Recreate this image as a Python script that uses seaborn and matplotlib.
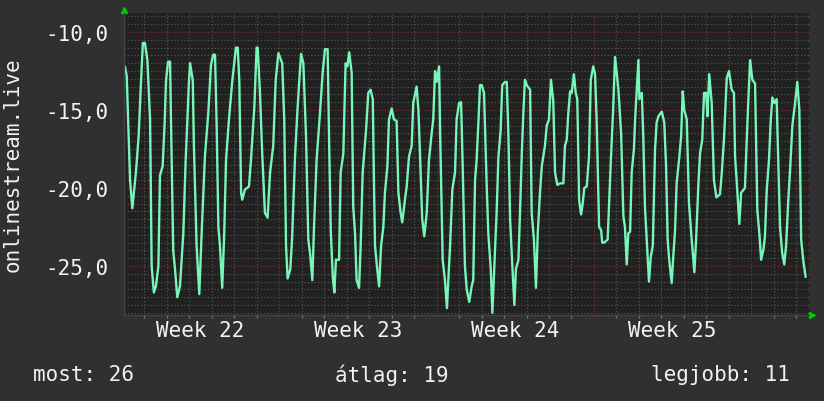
import pandas as pd
import seaborn as sns
import matplotlib.pyplot as plt
from matplotlib.ticker import FuncFormatter, MultipleLocator, FixedLocator

# time in days since start of week 22
days = [0.13, 0.21, 0.27, 0.36, 0.46, 0.53, 0.62, 0.74, 0.85, 0.93, 1.02, 1.13, 1.25, 1.32, 1.42,
        1.51, 1.62, 1.69, 1.81, 1.90, 1.96, 2.05, 2.14, 2.18, 2.28, 2.36, 2.46, 2.58, 2.73, 2.83,
        2.92, 2.98, 3.03, 3.15, 3.20, 3.32, 3.44, 3.55, 3.69, 3.84, 3.96, 4.06, 4.14, 4.21, 4.29,
        4.36, 4.46, 4.55, 4.63, 4.76, 4.91, 5.07, 5.15, 5.22, 5.30, 5.35, 5.47, 5.65, 5.74, 5.89,
        5.99, 6.04, 6.14, 6.24, 6.36, 6.48, 6.59, 6.73, 6.84, 6.96, 7.13, 7.22, 7.30, 7.37, 7.49,
        7.57, 7.70, 7.80, 7.89, 7.97, 8.07, 8.19, 8.29, 8.37, 8.47, 8.54, 8.66, 8.81, 8.93, 9.03,
        9.15, 9.22, 9.29, 9.38, 9.45, 9.52, 9.66, 9.73, 9.85, 9.95, 10.03, 10.11, 10.22, 10.29, 10.37,
        10.44, 10.55, 10.62, 10.71, 10.86, 10.96, 11.06, 11.16, 11.21, 11.26, 11.33, 11.44, 11.53, 11.63, 11.70,
        11.81, 11.88, 12.00, 12.10, 12.22, 12.30, 12.40, 12.47, 12.59, 12.67, 12.77, 12.89, 12.96, 13.04, 13.11,
        13.19, 13.26, 13.36, 13.45, 13.56, 13.66, 13.78, 13.85, 13.93, 14.00, 14.11, 14.16, 14.27, 14.37, 14.46,
        14.52, 14.60, 14.70, 14.82, 14.89, 15.00, 15.09, 15.16, 15.26, 15.34, 15.45, 15.56, 15.63, 15.71, 15.78,
        15.86, 15.93, 16.01, 16.11, 16.23, 16.30, 16.41, 16.48, 16.57, 16.67, 16.75, 16.85, 16.92, 17.04, 17.12,
        17.19, 17.27, 17.37, 17.46, 17.53, 17.64, 17.71, 17.79, 17.86, 17.93, 18.01, 18.16, 18.23, 18.33, 18.42,
        18.50, 18.60, 18.68, 18.82, 18.90, 19.00, 19.09, 19.19, 19.27, 19.37, 19.49, 19.64, 19.71, 19.79, 19.86,
        19.94, 20.01, 20.11, 20.19, 20.26, 20.34, 20.43, 20.50, 20.57, 20.68, 20.78, 20.86, 20.97, 21.05, 21.12,
        21.23, 21.32, 21.37, 21.46, 21.61, 21.68, 21.76, 21.86, 21.94, 22.01, 22.09, 22.21, 22.31, 22.38, 22.46,
        22.53, 22.61, 22.68, 22.78, 22.84, 22.98, 23.02, 23.13, 23.20, 23.27, 23.35, 23.45, 23.53, 23.62, 23.72,
        23.79, 23.87, 24.02, 24.13, 24.21, 24.28, 24.35, 24.46, 24.53, 24.61, 24.68, 24.80, 24.88, 24.95, 25.02,
        25.13, 25.23, 25.35, 25.47, 25.54, 25.65, 25.72, 25.82, 25.90, 25.99, 26.05, 26.13, 26.24, 26.34, 26.45,
        26.61, 26.69, 26.79, 26.91, 27.01, 27.13, 27.23, 27.28, 27.35, 27.47, 27.55, 27.72, 27.80, 27.87, 27.95,
        28.05, 28.17, 28.27, 28.36, 28.44, 28.54, 28.61, 28.69, 28.79, 28.87, 28.94, 29.03, 29.13, 29.20, 29.28,
        29.38, 29.47, 29.55, 29.65, 29.73, 29.83, 29.95, 30.05, 30.14, 30.22, 30.32, 30.42]

rank = [-12.2, -12.8, -15.4, -19.5, -21.3, -20.3, -19.0, -16.7, -13.1, -10.7, -10.7, -11.8, -15.6, -25.0, -26.7,
        -26.3, -25.0, -19.2, -18.6, -15.8, -13.1, -11.9, -11.9, -15.6, -24.0, -25.2, -27.0, -26.3, -22.9, -18.4,
        -15.2, -13.2, -12.0, -13.1, -17.3, -23.7, -26.8, -22.7, -18.0, -15.2, -12.1, -11.45, -11.45, -15.8, -22.5,
        -23.7, -26.4, -22.9, -18.2, -15.6, -13.1, -11.0, -11.0, -13.1, -20.3, -20.75, -20.1, -19.9, -18.2, -14.8,
        -11.0, -11.0, -13.9, -17.8, -21.6, -21.9, -19.0, -17.3, -13.1, -11.35, -12.0, -15.6, -23.7, -25.8, -25.2,
        -23.2, -18.0, -15.2, -13.1, -11.4, -12.0, -16.7, -23.3, -24.2, -25.9, -22.7, -18.2, -15.2, -12.6, -11.1,
        -11.1, -17.3, -22.7, -25.7, -26.7, -24.6, -24.6, -19.0, -17.8, -12.0, -12.2, -11.3, -12.6, -21.2, -22.9,
        -25.9, -26.4, -23.7, -19.0, -16.3, -13.9, -13.7, -14.3, -19.5, -23.7, -24.8, -26.3, -23.7, -22.5, -20.3,
        -18.6, -15.6, -14.9, -15.6, -15.7, -20.3, -21.6, -22.2, -20.75, -19.9, -18.0, -17.3, -14.55, -14.0, -13.5,
        -15.0, -17.8, -22.0, -23.1, -21.6, -18.2, -16.5, -15.6, -12.5, -13.2, -12.2, -16.7, -24.6, -25.9, -27.7,
        -25.9, -23.7, -20.1, -19.0, -15.6, -14.55, -14.5, -18.6, -25.0, -26.5, -27.3, -26.3, -25.9, -19.5, -18.2,
        -15.8, -13.4, -13.4, -13.9, -19.9, -22.9, -25.2, -28.0, -25.0, -21.6, -18.0, -16.3, -13.4, -13.2, -13.2,
        -16.3, -22.0, -25.0, -27.5, -25.2, -24.6, -21.6, -17.8, -15.2, -13.06, -13.4, -13.7, -21.6, -23.3, -26.4,
        -22.9, -20.3, -18.6, -17.3, -16.0, -15.6, -13.06, -14.4, -19.0, -19.8, -19.7, -19.7, -17.3, -16.9, -15.2,
        -13.8, -13.9, -12.7, -13.9, -14.3, -20.75, -21.7, -21.0, -20.0, -19.9, -18.0, -13.06, -12.2, -12.7, -15.6,
        -22.5, -22.7, -23.5, -23.5, -23.3, -20.75, -18.0, -14.8, -11.6, -12.6, -13.7, -16.5, -21.8, -22.5, -24.9,
        -22.9, -22.8, -19.0, -17.5, -15.4, -11.8, -14.3, -13.9, -16.9, -21.2, -23.3, -26.0, -24.4, -23.7, -17.5,
        -15.8, -15.4, -15.1, -15.8, -18.6, -23.3, -24.6, -26.1, -24.4, -22.7, -19.7, -18.0, -16.7, -13.8, -15.0,
        -15.6, -21.0, -23.3, -25.4, -23.5, -19.7, -17.8, -16.9, -13.9, -13.9, -15.4, -12.7, -14.55, -19.5, -20.6,
        -20.4, -19.0, -16.8, -12.95, -12.5, -13.7, -13.9, -18.0, -19.5, -22.3, -20.3, -20.0, -16.9, -14.4, -11.8,
        -13.06, -13.3, -21.4, -22.9, -24.6, -23.95, -23.1, -20.1, -18.2, -15.6, -14.2, -14.55, -14.3, -18.2, -22.5,
        -24.2, -24.9, -23.7, -20.75, -18.8, -16.0, -14.55, -13.2, -15.0, -23.3, -24.7, -25.7]

week_labels = ["Week 22", "Week 23", "Week 24", "Week 25"]
week_starts = [7, 14, 21, 28]
summary = ["most: 26", "átlag: 19", "legjobb: 11"]

df = pd.DataFrame({"day": days, "rank": rank})

sns.set_theme(style="dark")
plt.rcParams['font.family'] = ['DejaVu Sans Mono', 'DejaVu Sans']

fig_bg = "#303030"
txt = "#f2f2f2"
fig = plt.figure(figsize=(8.24, 4.02), dpi=100, facecolor=fig_bg)
ax = fig.add_axes([124 / 824, 1 - 316 / 402, 685 / 824, 302 / 402])
ax.set_facecolor("#212121")

sns.lineplot(data=df, x="day", y="rank", ax=ax, color="#78f5b8", linewidth=1.7)

ax.set_xlim(0.09, 30.57)
ax.set_ylim(-28.14, -8.78)

# grid: minor grey dotted, major dim red dotted
ax.xaxis.set_major_locator(FixedLocator(week_starts))
ax.xaxis.set_minor_locator(MultipleLocator(1))
ax.yaxis.set_major_locator(MultipleLocator(5))
ax.yaxis.set_minor_locator(MultipleLocator(0.5))
ax.grid(which="minor", color="#5a5a5a", linestyle=(0, (1, 2)), linewidth=0.8)
ax.grid(which="major", color="#8a3030", linestyle=(0, (1, 2)), linewidth=0.8)
ax.set_axisbelow(True)

ax.yaxis.set_major_formatter(FuncFormatter(lambda v, p: f"{v:.1f}".replace(".", ",")))
ax.tick_params(axis="y", which="both", length=0, pad=11, labelsize=15, labelcolor=txt)
ax.tick_params(axis="x", which="major", length=3, color="#8a3030", labelbottom=False)
ax.tick_params(axis="x", which="minor", length=2, color="#777777", bottom=True)

for s in ["top", "right"]:
    ax.spines[s].set_visible(False)
for s in ["left", "bottom"]:
    ax.spines[s].set_color("#444444")
    ax.spines[s].set_linewidth(1)

ax.set_xlabel("")
ax.set_ylabel("onlinestream.live", fontsize=15, color=txt)
ax.yaxis.set_label_coords(-0.148, 0.5)

for ws, lab in zip(week_starts, week_labels):
    ax.text(ws - 3.5, -0.05, lab, transform=ax.get_xaxis_transform(), ha="center", va="center",
            fontsize=15, color=txt)

# arrow heads at axis ends
ax.plot([0], [1.01], marker="^", color="#00d000", ms=5, transform=ax.transAxes, clip_on=False)
ax.plot([1.004], [0], marker=">", color="#00d000", ms=5, transform=ax.transAxes, clip_on=False)

fig.text(33 / 824, 1 - 375 / 402, summary[0], ha="left", va="center", fontsize=15, color=txt)
fig.text(392 / 824, 1 - 375 / 402, summary[1], ha="center", va="center", fontsize=15, color=txt)
fig.text(790 / 824, 1 - 375 / 402, summary[2], ha="right", va="center", fontsize=15, color=txt)

fig.savefig("out.png", dpi=100, facecolor=fig_bg)
